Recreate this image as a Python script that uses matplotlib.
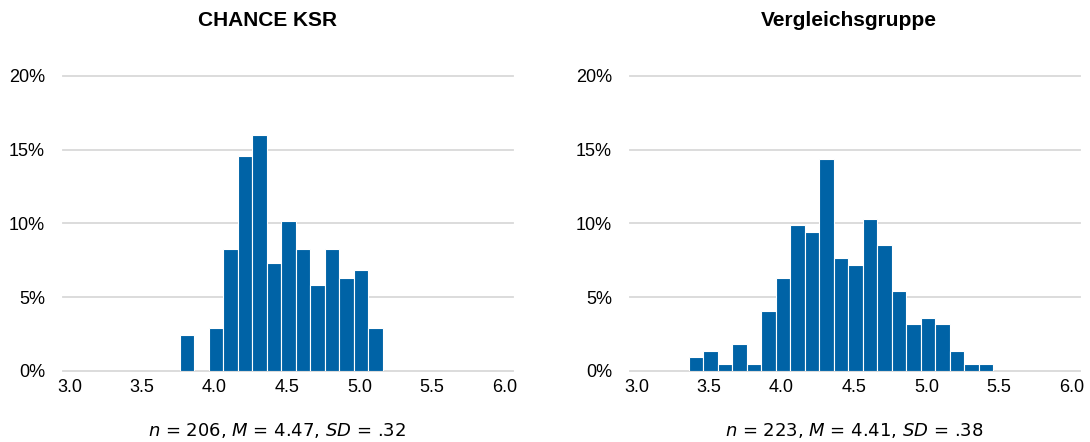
import numpy as np
import matplotlib
matplotlib.use('Agg')
import matplotlib.pyplot as plt

plt.rcParams['font.family'] = ['Liberation Sans', 'DejaVu Sans']
plt.rcParams['mathtext.fontset'] = 'custom'
plt.rcParams['mathtext.rm'] = 'DejaVu Sans'
plt.rcParams['mathtext.it'] = 'DejaVu Sans:italic'

# Data (bin centre -> share of respondents in %)
ksr_bins = [3.8, 4.0, 4.1, 4.2, 4.3, 4.4, 4.5, 4.6, 4.7, 4.8, 4.9, 5.0, 5.1]
ksr_pct = [2.43, 2.91, 8.25, 14.56, 16.02, 7.28, 10.19, 8.25, 5.83, 8.25, 6.31, 6.80, 2.91]

vg_bins = [3.4, 3.5, 3.6, 3.7, 3.8, 3.9, 4.0, 4.1, 4.2, 4.3, 4.4,
           4.5, 4.6, 4.7, 4.8, 4.9, 5.0, 5.1, 5.2, 5.3, 5.4]
vg_pct = [0.90, 1.35, 0.45, 1.79, 0.45, 4.04, 6.28, 9.87, 9.42, 14.35, 7.62,
          7.17, 10.31, 8.52, 5.38, 3.14, 3.59, 3.14, 1.35, 0.45, 0.45]

titles = ['CHANCE KSR', 'Vergleichsgruppe']
footers = [r'$n$ = 206, $M$ = 4.47, $SD$ = .32',
           r'$n$ = 223, $M$ = 4.41, $SD$ = .38']
x_ticks = [3.0, 3.5, 4.0, 4.5, 5.0, 5.5, 6.0]
y_ticks = [0, 5, 10, 15, 20]

bar_color = '#0063A6'
grid_color = '#d9d9d9'

fig = plt.figure(figsize=(10.9, 4.42), dpi=100)
ax_left = fig.add_axes([0.0578, 0.1613, 0.4128, 0.6668])
ax_right = fig.add_axes([0.5780, 0.1613, 0.4128, 0.6668])

panels = [(ax_left, ksr_bins, ksr_pct), (ax_right, vg_bins, vg_pct)]
for ax, bins, pct in panels:
    ax.bar(np.array(bins) + 0.01, pct, width=0.1, color=bar_color,
           edgecolor='white', linewidth=0.8, zorder=3)
    ax.set_xlim(2.955, 6.06)
    ax.set_ylim(0, 20)
    ax.set_xticks(x_ticks)
    ax.set_xticklabels([f'{t:.1f}' for t in x_ticks])
    ax.set_yticks(y_ticks)
    ax.set_yticklabels([f'{t}%' for t in y_ticks])
    for y in y_ticks:
        ax.axhline(y, color=grid_color, linewidth=1.3, zorder=1, clip_on=False)
    ax.tick_params(axis='both', length=0, labelsize=13, colors='black')
    ax.tick_params(axis='x', pad=6)
    ax.tick_params(axis='y', pad=13)
    for s in ax.spines.values():
        s.set_visible(False)

# titles and footers placed in figure pixels
fig.text(267.5 / 1090, 1 - 21 / 442, titles[0], ha='center', va='center',
         fontsize=15, fontweight='bold')
fig.text(848.5 / 1090, 1 - 21 / 442, titles[1], ha='center', va='center',
         fontsize=15, fontweight='bold')
fig.text(277 / 1090, 1 - 431 / 442, footers[0], ha='center', va='center',
         fontsize=13, family='DejaVu Sans')
fig.text(854 / 1090, 1 - 431 / 442, footers[1], ha='center', va='center',
         fontsize=13, family='DejaVu Sans')

fig.savefig('out.png', dpi=100)
